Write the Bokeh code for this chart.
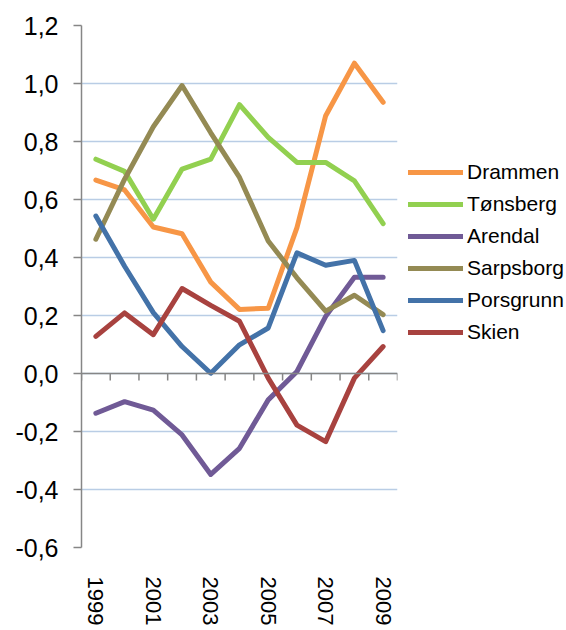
import math
from bokeh.plotting import figure
from bokeh.models import (Legend, LegendItem, FixedTicker, CustomJSTickFormatter,
                          Span, Range1d)
from bokeh.embed import file_html
from bokeh.resources import INLINE

years = [1999, 2000, 2001, 2002, 2003, 2004, 2005, 2006, 2007, 2008, 2009]
drammen = [0.667, 0.633, 0.505, 0.482, 0.315, 0.221, 0.225, 0.503, 0.889, 1.070, 0.935]
tonsberg = [0.739, 0.697, 0.532, 0.705, 0.739, 0.927, 0.814, 0.728, 0.728, 0.664, 0.517]
arendal = [-0.137, -0.097, -0.126, -0.212, -0.348, -0.258, -0.091, 0.007, 0.197, 0.332, 0.332]
sarpsborg = [0.463, 0.670, 0.851, 0.993, 0.830, 0.676, 0.457, 0.330, 0.215, 0.270, 0.203]
porsgrunn = [0.543, 0.370, 0.210, 0.093, 0.001, 0.099, 0.157, 0.416, 0.373, 0.390, 0.148]
skien = [0.128, 0.209, 0.134, 0.293, 0.235, 0.180, -0.016, -0.178, -0.235, -0.016, 0.093]

names = ["Drammen", "Tønsberg", "Arendal", "Sarpsborg", "Porsgrunn", "Skien"]
series = [drammen, tonsberg, arendal, sarpsborg, porsgrunn, skien]
colors = ["#F79646", "#92D050", "#705A96", "#948A54", "#4372A8", "#A8423F"]

y_ticks = [-0.6, -0.4, -0.2, 0.0, 0.2, 0.4, 0.6, 0.8, 1.0, 1.2]
x_label_years = [1999, 2001, 2003, 2005, 2007, 2009]

FONT = "Liberation Sans"

p = figure(frame_width=316, frame_height=522,
           x_range=Range1d(years[0] - 0.5, years[-1] + 0.5),
           y_range=Range1d(y_ticks[0], y_ticks[-1]),
           output_backend="svg", toolbar_location=None,
           min_border_left=81, min_border_top=25, min_border_right=0,
           min_border_bottom=0)
p.outline_line_color = None
p.background_fill_color = "white"

# grid
p.xgrid.visible = False
p.ygrid.ticker = FixedTicker(ticks=y_ticks)
p.ygrid.grid_line_color = "#B9CDE5"
p.ygrid.grid_line_width = 1.5

# y axis
p.yaxis.ticker = FixedTicker(ticks=y_ticks)
p.yaxis.formatter = CustomJSTickFormatter(code="return tick.toFixed(1).replace('.', ',');")
p.yaxis.axis_line_color = "#868686"
p.yaxis.axis_line_width = 1.5
p.yaxis.major_tick_line_color = "#868686"
p.yaxis.major_tick_line_width = 1.5
p.yaxis.major_tick_out = 8
p.yaxis.major_tick_in = 0
p.yaxis.minor_tick_line_color = None
p.yaxis.major_label_text_font = FONT
p.yaxis.major_label_text_font_size = "25px"
p.yaxis.major_label_text_color = "black"
p.yaxis.major_label_standoff = 15

# x axis (labels only)
p.xaxis.ticker = FixedTicker(ticks=x_label_years)
p.xaxis.axis_line_color = None
p.xaxis.major_tick_line_color = None
p.xaxis.minor_tick_line_color = None
p.xaxis.major_label_orientation = -math.pi / 2
p.xaxis.major_label_text_font = FONT
p.xaxis.major_label_text_font_size = "22px"
p.xaxis.major_label_text_color = "black"
p.xaxis.major_label_standoff = 23

# zero line with category boundary ticks
p.add_layout(Span(location=0, dimension="width", line_color="#868686", line_width=1.5))
bounds = [y - 0.5 for y in years] + [years[-1] + 0.5]
p.segment(x0=bounds, y0=[0] * len(bounds), x1=bounds, y1=[-0.024] * len(bounds),
          line_color="#868686", line_width=1.5)

items = []
for name, vals, col in zip(names, series, colors):
    r = p.line(years, vals, line_color=col, line_width=5, line_join="round", line_cap="round")
    items.append(LegendItem(label=name, renderers=[r]))

legend = Legend(items=items, location=(11, 203), orientation="vertical",
                label_text_font=FONT, label_text_font_size="21px",
                label_text_color="black",
                glyph_width=55, glyph_height=20, label_height=20, spacing=8,
                padding=0, margin=0, label_standoff=4,
                border_line_color=None, background_fill_alpha=0)
p.add_layout(legend, "right")

open("out.html", "w").write(file_html(p, INLINE))
